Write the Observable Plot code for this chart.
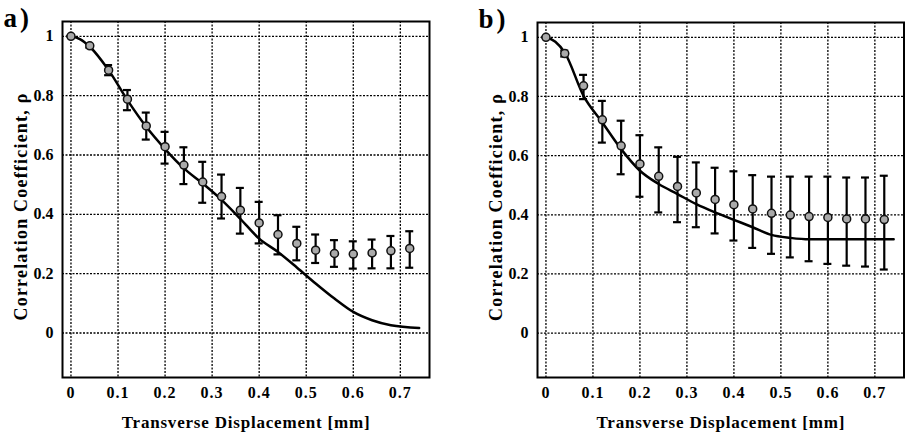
<!DOCTYPE html>
<html>
<head>
<meta charset="utf-8">
<script src="https://cdn.jsdelivr.net/npm/d3@7"></script>
<script src="https://cdn.jsdelivr.net/npm/@observablehq/plot@0.6"></script>
<style>
  html, body { margin: 0; padding: 0; background: #fff; }
  #wrap { position: relative; width: 905px; height: 434px; overflow: hidden; }
  #wrap svg { position: absolute; top: 0; }
  .xt text { letter-spacing: 1px; }
  .xtitle text { letter-spacing: 0.8px; }
  .ytitle text { letter-spacing: 1.2px; }
  .plab text { letter-spacing: 3px; }
</style>
</head>
<body>
<div id="wrap"></div>
<script>
// ---- data ----
const xPoints = [0, 0.04, 0.08, 0.12, 0.16, 0.20, 0.24, 0.28, 0.32, 0.36, 0.40, 0.44, 0.48, 0.52, 0.56, 0.60, 0.64, 0.68, 0.72];

const aMean = [1.0, 0.968, 0.886, 0.788, 0.698, 0.628, 0.566, 0.509, 0.460, 0.414, 0.371, 0.332, 0.302, 0.279, 0.268, 0.266, 0.270, 0.277, 0.285];
const aLow  = [1.0, 0.962, 0.869, 0.751, 0.652, 0.571, 0.502, 0.439, 0.386, 0.335, 0.302, 0.265, 0.245, 0.236, 0.223, 0.217, 0.218, 0.218, 0.220];
const aHigh = [1.0, 0.974, 0.903, 0.819, 0.743, 0.678, 0.626, 0.577, 0.534, 0.489, 0.442, 0.397, 0.358, 0.332, 0.313, 0.309, 0.315, 0.327, 0.343];

const bMean = [1.0, 0.945, 0.836, 0.721, 0.633, 0.572, 0.530, 0.496, 0.474, 0.452, 0.434, 0.420, 0.405, 0.399, 0.394, 0.391, 0.386, 0.386, 0.384];
const bLow  = [1.0, 0.935, 0.791, 0.644, 0.537, 0.461, 0.408, 0.375, 0.358, 0.337, 0.313, 0.288, 0.268, 0.256, 0.243, 0.234, 0.228, 0.225, 0.215];
const bHigh = [1.0, 0.955, 0.873, 0.785, 0.718, 0.669, 0.628, 0.596, 0.577, 0.559, 0.547, 0.534, 0.529, 0.529, 0.529, 0.529, 0.526, 0.526, 0.532];

const aCurveX = [0, 0.02, 0.04, 0.08, 0.12, 0.16, 0.20, 0.24, 0.28, 0.32, 0.36, 0.40, 0.44, 0.48, 0.52, 0.56, 0.60, 0.64, 0.68, 0.74];
const aCurveY = [1.0, 0.99, 0.965, 0.886, 0.785, 0.695, 0.620, 0.555, 0.504, 0.449, 0.385, 0.318, 0.273, 0.221, 0.167, 0.116, 0.071, 0.043, 0.026, 0.017];

const bCurveX = [0, 0.02, 0.04, 0.08, 0.12, 0.16, 0.20, 0.24, 0.28, 0.32, 0.36, 0.40, 0.44, 0.48, 0.52, 0.56, 0.60, 0.74];
const bCurveY = [1.0, 0.985, 0.948, 0.802, 0.712, 0.622, 0.549, 0.504, 0.470, 0.436, 0.408, 0.383, 0.358, 0.332, 0.322, 0.317, 0.317, 0.317];

const xTicks = [0, 0.1, 0.2, 0.3, 0.4, 0.5, 0.6, 0.7];
const xTickLabels = ["0", "0.1", "0.2", "0.3", "0.4", "0.5", "0.6", "0.7"];
const yTicks = [0, 0.2, 0.4, 0.6, 0.8, 1];
const yTickLabels = ["0", "0.2", "0.4", "0.6", "0.8", "1"];

const xTitle = "Transverse Displacement [mm]";
const yTitle = "Correlation Coefficient, ρ";
const panelLabels = ["a)", "b)"];

// ---- drawing ----
const FONT = '"Liberation Serif", "Times New Roman", serif';

function makePanel({label, mean, low, high, cx, cy, width, marginLeft, marginRight, marginTop}) {
  const pts = xPoints.map((x, i) => ({x, m: mean[i], lo: low[i], hi: high[i]}));
  const curve = cx.map((x, i) => ({x, y: cy[i]}));
  const cap = 0.0085;
  const grid = {stroke: "#000", strokeOpacity: 1, strokeWidth: 1.3, strokeDasharray: "2,1.5"};
  return Plot.plot({
    width, height: 434,
    marginLeft, marginRight, marginTop, marginBottom: 57,
    x: {domain: [-0.018, 0.762], axis: null},
    y: {domain: [-0.15, 1.05], axis: null},
    style: {fontFamily: FONT, fontSize: "16px", fontWeight: "bold", color: "#000", background: "transparent"},
    marks: [
      Plot.gridX(xTicks, grid),
      Plot.gridY(yTicks, grid),
      Plot.axisX(xTicks, {tickSize: 0, tickPadding: 9, label: null, className: "xt",
        tickFormat: d => xTickLabels[xTicks.indexOf(d)], fontSize: 16, fontWeight: "bold"}),
      Plot.axisY(yTicks, {tickSize: 0, tickPadding: 9, label: null,
        tickFormat: d => yTickLabels[yTicks.indexOf(d)], fontSize: 16, fontWeight: "bold"}),
      Plot.text([xTitle], {frameAnchor: "bottom", dy: 45, textAnchor: "middle", lineAnchor: "middle", className: "xtitle",
        fontSize: 17, fontWeight: "bold", fill: "#000"}),
      Plot.text([yTitle], {frameAnchor: "left", dx: -41, dy: 7, rotate: -90, textAnchor: "middle", lineAnchor: "middle", className: "ytitle",
        fontSize: 18, fontWeight: "bold", fill: "#000"}),
      Plot.text([label], {frameAnchor: "top-left", dx: -59, dy: -3, textAnchor: "start", lineAnchor: "middle", className: "plab",
        fontSize: 27, fontWeight: "bold", fill: "#000"}),
      Plot.line(curve, {x: "x", y: "y", stroke: "#000", strokeWidth: 2.5, curve: "monotone-x"}),
      Plot.ruleX(pts, {x: "x", y1: "lo", y2: "hi", stroke: "#000", strokeWidth: 2.2}),
      Plot.ruleY(pts, {y: "hi", x1: d => d.x - cap, x2: d => d.x + cap, stroke: "#000", strokeWidth: 2.2}),
      Plot.ruleY(pts, {y: "lo", x1: d => d.x - cap, x2: d => d.x + cap, stroke: "#000", strokeWidth: 2.2}),
      Plot.dot(pts, {x: "x", y: "m", r: 4, fill: "#aaa", stroke: "#111", strokeWidth: 1.5}),
      Plot.frame({stroke: "#000", strokeWidth: 2})
    ]
  });
}

const wrap = document.getElementById("wrap");
const a = makePanel({label: panelLabels[0], mean: aMean, low: aLow, high: aHigh, cx: aCurveX, cy: aCurveY,
  width: 450, marginLeft: 62, marginRight: 21, marginTop: 21});
a.style.left = "0px";
wrap.appendChild(a);
const b = makePanel({label: panelLabels[1], mean: bMean, low: bLow, high: bHigh, cx: bCurveX, cy: bCurveY,
  width: 455, marginLeft: 87, marginRight: 1.5, marginTop: 22});
b.style.left = "450px";
wrap.appendChild(b);
</script>
</body>
</html>
